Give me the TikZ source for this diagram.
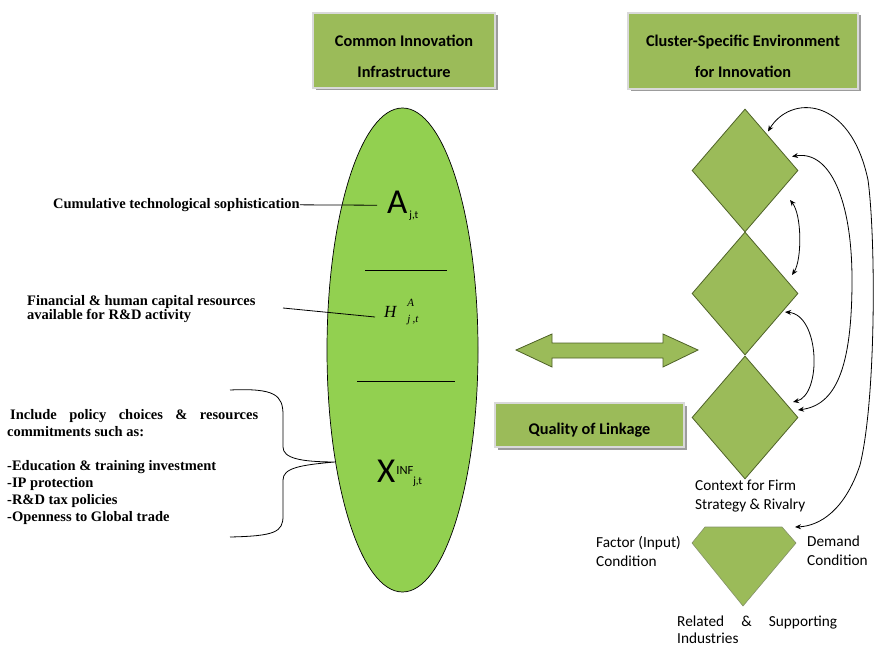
\documentclass[tikz,border=0pt]{standalone}
\usepackage{fontspec}
\setmainfont{Liberation Serif}
\newfontfamily\calfont{Carlito}
\usetikzlibrary{shapes.geometric,arrows.meta,calc,shadows}
\definecolor{olivebox}{HTML}{9BBB59}
\definecolor{ellgreen}{HTML}{92D050}
\definecolor{olivedark}{HTML}{4F6228}
\begin{document}
\begin{tikzpicture}[x=1pt,y=-1pt,
 hdrbox/.style={rectangle, fill=olivebox, draw=gray!30, line width=1.2pt, inner sep=0pt,
   drop shadow={shadow xshift=2.5pt, shadow yshift=-2.5pt, fill=black!55, opacity=0.7}},
 hdrtxt/.style={font=\calfont\bfseries\fontsize{16.3}{31}\selectfont, align=center, inner sep=0pt},
 lbltxt/.style={font=\calfont\fontsize{15.3}{19}\selectfont, align=left, inner sep=0pt, anchor=north west},
 notetxt/.style={font=\bfseries\fontsize{14.5}{17}\selectfont, align=left, inner sep=0pt, anchor=north west},
 dia/.style={diamond, fill=olivebox, draw=olivedark, line width=0.8pt, minimum width=106pt, minimum height=123pt, inner sep=0pt},
 link/.style={line width=0.8pt},
 dbl/.style={line width=0.8pt, {Stealth[length=6pt,width=5pt]}-{Stealth[length=6pt,width=5pt]}},
]
\fill[white] (0,0) rectangle (877,647);
\useasboundingbox (0,0) rectangle (877,647);

% header boxes
\node[hdrbox, minimum width=182pt, minimum height=75pt] (cii) at (404,50.5) {};
\node[hdrtxt] (ciit) at (404,56) {Common Innovation\\Infrastructure};
\node[hdrbox, minimum width=230pt, minimum height=76pt] (cse) at (743,51) {};
\node[hdrtxt] (cset) at (743,56) {Cluster-Specific Environment\\for Innovation};

% ellipse
\node[ellipse, draw=black, line width=0.7pt, fill=ellgreen, minimum width=151pt, minimum height=484pt, inner sep=0pt] (ell) at (402.5,350) {};
\draw[link] (365,270) -- (447,270);
\draw[link] (357,381) -- (455,381);

\node[anchor=base west, inner xsep=10pt, inner ysep=0pt, font=\calfont\fontsize{35}{35}\selectfont] (A) at (377,213)
  {A\kern2pt\raisebox{-5pt}{\fontsize{11}{11}\selectfont j,t}};
\node[anchor=base west, inner xsep=9pt, inner ysep=0pt, font=\fontsize{17}{17}\selectfont\itshape] (H) at (375,317)
  {H\kern11pt\rlap{\raisebox{11pt}{\fontsize{11}{11}\selectfont A}}\raisebox{-5pt}{\fontsize{11}{11}\selectfont j\kern2pt,t}};
\node[anchor=base west, inner sep=0pt, font=\calfont\fontsize{35}{35}\selectfont] (X) at (377,482)
  {X\kern1pt\raisebox{8pt}{\fontsize{12.5}{12.5}\selectfont INF}\raisebox{-2.5pt}{\fontsize{11}{11}\selectfont j,t}};

% left notes
\node[notetxt] (cum) at (53,198) {Cumulative technological sophistication};
\node[notetxt, font=\bfseries\fontsize{14.5}{14.5}\selectfont] (fin) at (27,295) {Financial \& human capital resources\\available for R\&D activity};
\node[notetxt] (pol) at (7,409) {\makebox[251pt][s]{\kern3pt Include policy choices \& resources}\\commitments such as:\\[17pt]-Education \& training investment\\-IP protection\\-R\&D tax policies\\-Openness to Global trade};

\draw[link] (cum.east) -- (A.west);
\coordinate (hstart) at (283,308);
\draw[link] (hstart) -- (H.base west);
\draw[link] (230,390) .. controls (275,388) and (283,395) .. (283,415) -- (283,447)
  .. controls (283,458) and (300,462) .. (ell.239)
  .. controls (300,465) and (283,468) .. (283,480) -- (283,516)
  .. controls (283,532) and (275,536) .. (230,537);

% double arrow
\draw[fill=olivebox, draw=olivedark, line width=0.8pt] (516,350) -- (552,334) -- (552,343) -- (663,343) -- (663,334) -- (698,350)
  -- (663,367) -- (663,358) -- (552,358) -- (552,367) -- cycle;

% quality of linkage
\node[hdrbox, minimum width=189pt, minimum height=44pt] (qol) at (589.5,425) {};
\node[hdrtxt] (qolt) at (589.5,430) {Quality of Linkage};

% diamonds
\node[dia] (d1) at (745,170.5) {};
\node[dia] (d2) at (745,293.5) {};
\node[dia] (d3) at (745,417.5) {};
\draw[fill=olivebox, draw=olivedark!70, line width=0.6pt] (705,527) -- (782,527) -- (796,543) -- (743,606) -- (692,543) -- cycle;
\coordinate (gemarr) at (795,527);

\coordinate (c1) at ($(d1.center)+(23,-39)$);
\coordinate (c2) at ($(d1.center)+(47,-14)$);
\coordinate (cC1) at ($(d1.center)+(45,29.5)$);
\coordinate (cC2) at ($(d2.center)+(47,-18.5)$);
\coordinate (cD1) at ($(d2.center)+(40,18.5)$);
\coordinate (cD2) at ($(d3.center)+(48,-15.5)$);
\coordinate (c3) at ($(d3.center)+(53,-7.5)$);

\draw[dbl] (c1) .. controls (790,95) and (850,95) .. (868,180) .. controls (876,240) and (876,400) .. (860,465) .. controls (845,510) and (820,526) .. (gemarr);
\draw[dbl] (c2) .. controls (830,150) and (852,200) .. (852,280) .. controls (852,370) and (835,405) .. (c3);
\draw[dbl] (cC1) .. controls (802,215) and (802,260) .. (cC2);
\draw[dbl] (cD1) .. controls (820,315) and (822,395) .. (cD2);

% labels
\node[lbltxt] (ctx) at (695,480) {Context for Firm\\Strategy \& Rivalry};
\node[lbltxt] (fac) at (596,536) {Factor (Input)\\Condition};
\node[lbltxt] (dem) at (807,536) {Demand\\Condition};
\node[lbltxt, font=\calfont\fontsize{15.3}{17}\selectfont] (rel) at (677,616) {\makebox[160pt][s]{Related \& Supporting}\\Industries};
\end{tikzpicture}
\end{document}
